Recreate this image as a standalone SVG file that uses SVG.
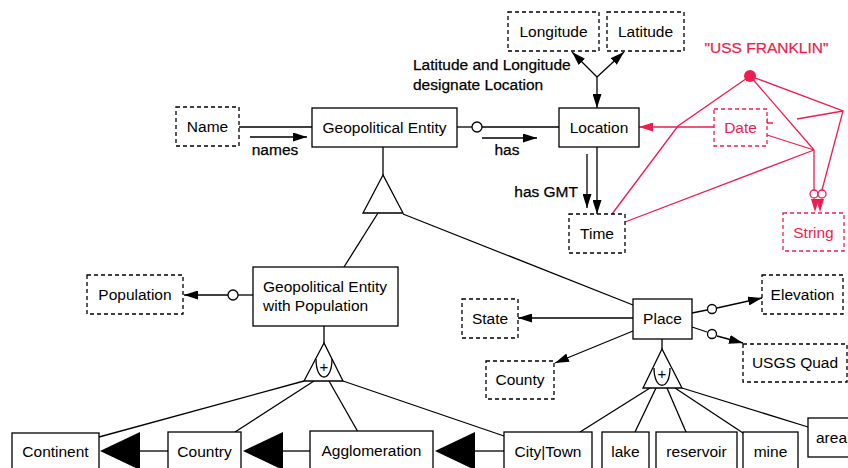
<svg xmlns="http://www.w3.org/2000/svg" width="848" height="468" viewBox="0 0 848 468">
<defs>
<style>
.b{fill:#fff;stroke:#000;stroke-width:1.3}
.d{fill:#fff;stroke:#000;stroke-width:1.3;stroke-dasharray:4 3}
.rd{fill:#fff;stroke:#ee1d4f;stroke-width:1.3;stroke-dasharray:4 3}
.t{font-family:"Liberation Sans",Arial,Helvetica,sans-serif;font-size:15.5px;fill:#000}
.c{text-anchor:middle}
.k{stroke:#000;stroke-width:0.25}
.rt{fill:#ee1d4f}
.rk{stroke:#ee1d4f;stroke-width:0.25}
.l{fill:none;stroke:#000;stroke-width:1.3}
.rl{fill:none;stroke:#ee1d4f;stroke-width:1.3}
.f{fill:#000;stroke:none}
.o{fill:#fff;stroke:#000;stroke-width:1.3}
.ro{fill:#fff;stroke:#ee1d4f;stroke-width:1.3}
.p{font-family:"Liberation Sans",Arial,sans-serif;font-size:15px;fill:#000;text-anchor:middle}
</style>
<marker id="a" markerUnits="userSpaceOnUse" markerWidth="15" markerHeight="9" refX="14" refY="4.5" orient="auto" viewBox="0 0 15 9"><path d="M0,0 L14,4.5 L0,9 z" fill="#000"/></marker>
<marker id="ra" markerUnits="userSpaceOnUse" markerWidth="15" markerHeight="9" refX="14" refY="4.5" orient="auto" viewBox="0 0 15 9"><path d="M0,0 L14,4.5 L0,9 z" fill="#ee1d4f"/></marker>
</defs>
<rect width="848" height="468" fill="#fff"/>

<g id="connectors">
  <line class="l" x1="239" y1="127" x2="312" y2="127"/>
  <line class="l" x1="250" y1="137" x2="307" y2="137" marker-end="url(#a)"/>
  <line class="l" x1="457" y1="127" x2="472" y2="127"/>
  <circle class="o" cx="477" cy="127" r="5"/>
  <line class="l" x1="482" y1="127" x2="559" y2="127"/>
  <line class="l" x1="482" y1="138" x2="537" y2="138" marker-end="url(#a)"/>
  <line class="l" x1="597" y1="77" x2="572" y2="52" marker-end="url(#a)"/>
  <line class="l" x1="597" y1="77" x2="624" y2="52" marker-end="url(#a)"/>
  <line class="l" x1="597" y1="77" x2="597" y2="108" marker-end="url(#a)"/>
  <line class="l" x1="597" y1="147" x2="597" y2="214" marker-end="url(#a)"/>
  <line class="l" x1="587" y1="154" x2="587" y2="208" marker-end="url(#a)"/>
  <line class="l" x1="383" y1="147" x2="383" y2="175"/>
  <line class="l" x1="378" y1="213" x2="344" y2="267"/>
  <line class="l" x1="403" y1="214" x2="633" y2="305"/>
  <line class="l" x1="253" y1="295" x2="238" y2="295"/>
  <circle class="o" cx="233" cy="295" r="5"/>
  <line class="l" x1="228" y1="295" x2="184" y2="295" marker-end="url(#a)"/>
  <line class="l" x1="324" y1="326" x2="324" y2="343"/>
  <line class="l" x1="304" y1="381" x2="99" y2="437"/>
  <line class="l" x1="314" y1="381" x2="235" y2="432"/>
  <line class="l" x1="329" y1="381" x2="358" y2="432"/>
  <line class="l" x1="343" y1="381" x2="504" y2="436"/>
  <line class="l" x1="140" y1="451" x2="168" y2="451"/>
  <polygon class="f" points="100,451 140,432 140,470"/>
  <line class="l" x1="283" y1="451" x2="310" y2="451"/>
  <polygon class="f" points="243,451 283,432 283,470"/>
  <line class="l" x1="475" y1="451" x2="504" y2="451"/>
  <polygon class="f" points="435,451 475,432 475,470"/>
  <line class="l" x1="662" y1="339" x2="662" y2="349"/>
  <line class="l" x1="650" y1="388" x2="580" y2="432"/>
  <line class="l" x1="656" y1="388" x2="635" y2="432"/>
  <line class="l" x1="667" y1="388" x2="686" y2="432"/>
  <line class="l" x1="675" y1="388" x2="743" y2="433"/>
  <line class="l" x1="682" y1="388" x2="808" y2="427"/>
  <line class="l" x1="633" y1="318" x2="518" y2="318" marker-end="url(#a)"/>
  <line class="l" x1="633" y1="331" x2="555" y2="363" marker-end="url(#a)"/>
  <line class="l" x1="692" y1="313" x2="707" y2="310"/>
  <circle class="o" cx="712" cy="309" r="4.5"/>
  <line class="l" x1="717" y1="308" x2="762" y2="298" marker-end="url(#a)"/>
  <line class="l" x1="692" y1="327" x2="707" y2="332"/>
  <circle class="o" cx="712" cy="334" r="4.5"/>
  <line class="l" x1="717" y1="336" x2="743" y2="343" marker-end="url(#a)"/>

  <line class="rl" x1="714" y1="127" x2="639" y2="127" marker-end="url(#ra)"/>
  <polyline class="rl" points="750,76 678,126 612,214"/>
  <line class="rl" x1="750" y1="76" x2="814" y2="150"/>
  <line class="rl" x1="767" y1="135" x2="814" y2="150"/>
  <line class="rl" x1="625" y1="222" x2="814" y2="150"/>
  <line class="rl" x1="814" y1="150" x2="814" y2="190"/>
  <polyline class="rl" points="750,76 843,111 822,190"/>
  <line class="rl" x1="797" y1="119" x2="843" y2="111"/>
  <path class="rl" d="M767,118 V123 H773"/>
  <circle class="ro" cx="814" cy="194" r="4"/>
  <circle class="ro" cx="822" cy="194" r="4"/>
  <polygon class="rt" points="811,199 819,199 815,212"/>
  <polygon class="rt" points="816,199 824,199 820,212"/>
  <circle class="rt" cx="750" cy="76" r="6"/>
</g>

<g id="labels">
  <text class="t k" x="413" y="70">Latitude and Longitude</text>
  <text class="t k" x="413" y="90">designate Location</text>
  <text class="t c k" x="275" y="155">names</text>
  <text class="t c k" x="507" y="155">has</text>
  <text class="t k" x="578" y="197" text-anchor="end">has GMT</text>
  <text class="t c rt rk" x="766.5" y="53">"USS FRANKLIN"</text>
</g>

<g id="longitude"><rect class="d" x="508" y="12" width="91" height="39"/><text class="t c" x="553.5" y="37">Longitude</text></g>
<g id="latitude"><rect class="d" x="607" y="12" width="77" height="39"/><text class="t c" x="645.5" y="37">Latitude</text></g>
<g id="name"><rect class="d" x="176" y="107" width="63" height="39"/><text class="t c" x="207.5" y="132">Name</text></g>
<g id="geopolitical-entity"><rect class="b" x="312" y="108" width="145" height="39"/><text class="t c" x="384.5" y="133">Geopolitical Entity</text></g>
<g id="location"><rect class="b" x="559" y="108" width="80" height="39"/><text class="t c" x="599" y="133">Location</text></g>
<g id="time"><rect class="d" x="569" y="214" width="56" height="39"/><text class="t c" x="597" y="239">Time</text></g>
<g id="date"><rect class="rd" x="714" y="109" width="53" height="37"/><text class="t c rt" x="740.5" y="133">Date</text></g>
<g id="string"><rect class="rd" x="783" y="213" width="61" height="38"/><text class="t c rt" x="813.5" y="238">String</text></g>

<g id="gen-triangle"><polygon class="o" points="383,175 363,213 403,213"/></g>

<g id="gep"><rect class="b" x="253" y="267" width="145" height="59"/><text class="t" x="263" y="292">Geopolitical Entity</text><text class="t" x="263" y="311">with Population</text></g>
<g id="population"><rect class="d" x="87" y="275" width="96" height="39"/><text class="t c" x="135" y="300">Population</text></g>

<g id="union-triangle-1"><polygon class="o" points="324,343 304,381 343,381"/><path class="l" d="M316,359 C316,383 332,383 332,359"/><text class="p" x="324" y="372">+</text></g>

<g id="place"><rect class="b" x="633" y="299" width="59" height="40"/><text class="t c" x="662.5" y="324">Place</text></g>
<g id="state"><rect class="d" x="462" y="299" width="56" height="39"/><text class="t c" x="490" y="324">State</text></g>
<g id="county"><rect class="d" x="486" y="361" width="68" height="38"/><text class="t c" x="520" y="385">County</text></g>
<g id="elevation"><rect class="d" x="762" y="275" width="81" height="39"/><text class="t c" x="802.5" y="300">Elevation</text></g>
<g id="usgs-quad"><rect class="d" x="743" y="344" width="104" height="38"/><text class="t c" x="795" y="368">USGS Quad</text></g>

<g id="union-triangle-2"><polygon class="o" points="662,349 643,388 682,388"/><path class="l" d="M654,368 C654,391 670,391 670,368"/><text class="p" x="662" y="379">+</text></g>

<g id="continent"><rect class="b" x="12" y="433" width="87" height="40"/><text class="t c" x="55.5" y="457">Continent</text></g>
<g id="country"><rect class="b" x="168" y="432" width="73" height="40"/><text class="t c" x="204.5" y="457">Country</text></g>
<g id="agglomeration"><rect class="b" x="310" y="431" width="123" height="40"/><text class="t c" x="371.5" y="456">Agglomeration</text></g>
<g id="city-town"><rect class="b" x="504" y="432" width="88" height="40"/><text class="t c" x="548" y="457">City|Town</text></g>
<g id="lake"><rect class="b" x="602" y="432" width="47" height="40"/><text class="t c" x="625.5" y="457">lake</text></g>
<g id="reservoir"><rect class="b" x="656" y="432" width="81" height="40"/><text class="t c" x="696.5" y="457">reservoir</text></g>
<g id="mine"><rect class="b" x="743" y="432" width="55" height="40"/><text class="t c" x="770.5" y="457">mine</text></g>
<g id="area"><rect class="b" x="808" y="418" width="60" height="39"/><text class="t" x="816" y="443">area</text></g>
</svg>
